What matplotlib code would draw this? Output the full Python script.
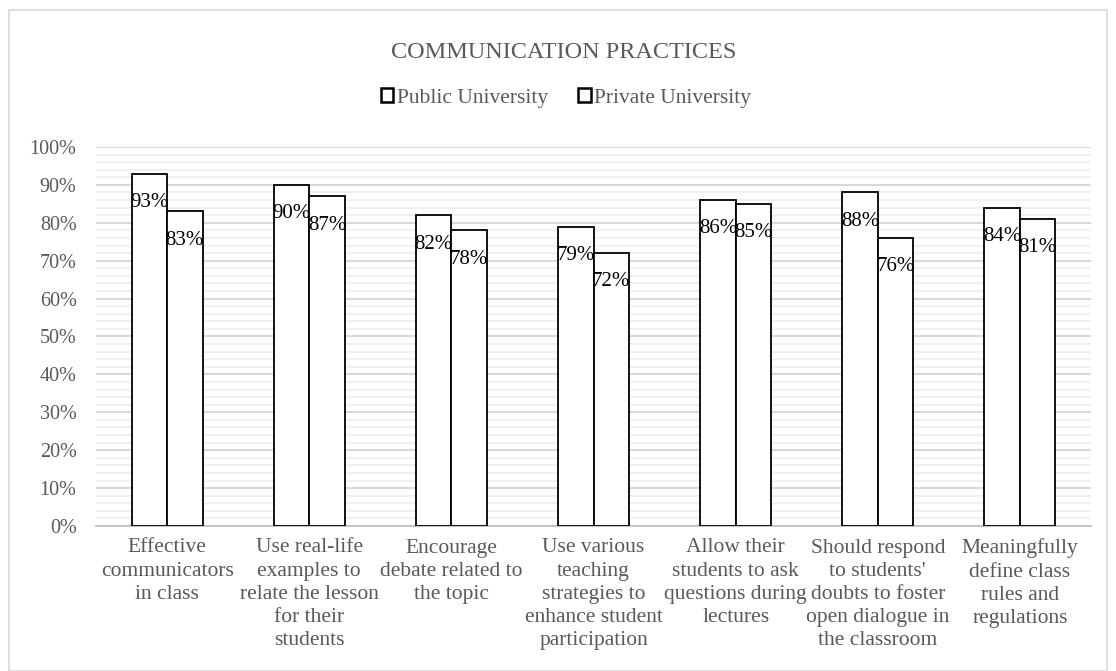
import numpy as np
import matplotlib.pyplot as plt
from matplotlib.patches import Rectangle
from matplotlib.ticker import MultipleLocator, PercentFormatter

plt.rcParams['font.family'] = ['Liberation Serif', 'DejaVu Serif']

categories = ["Effective\ncommunicators\nin class",
              "Use real-life\nexamples to\nrelate the lesson\nfor their\nstudents",
              "Encourage\ndebate related to\nthe topic",
              "Use various\nteaching\nstrategies to\nenhance student\nparticipation",
              "Allow their\nstudents to ask\nquestions during\nlectures",
              "Should respond\nto students'\ndoubts to foster\nopen dialogue in\nthe classroom",
              "Meaningfully\ndefine class\nrules and\nregulations"]
public = [93, 90, 82, 79, 86, 88, 84]
private = [83, 87, 78, 72, 85, 76, 81]
series = ["Public University", "Private University"]

grey = '#595959'
W, H = 1116, 671
fig = plt.figure(figsize=(W/100, H/100), dpi=100)

# chart border
fig.patches.append(Rectangle((9/W, 0), 1098/W, (H-10)/H, transform=fig.transFigure,
                             fill=False, edgecolor='#d9d9d9', lw=1.2))

ax = fig.add_axes([96/W, (H-526)/H, (1091-96)/W, (526-147)/H])
x = np.arange(len(categories))
w = 0.25
b1 = ax.bar(x - w/2, public, w, color='white', edgecolor='black', lw=1.3, label=series[0], zorder=3)
b2 = ax.bar(x + w/2, private, w, color='white', edgecolor='black', lw=1.3, label=series[1], zorder=3)

for bars, vals in ((b1, public), (b2, private)):
    for r, v in zip(bars, vals):
        ax.annotate(f"{v}%", (r.get_x() + r.get_width()/2, v), xytext=(0, -24),
                    textcoords='offset points', ha='center', va='baseline',
                    fontsize=15, color='black', zorder=4)

ax.set_xlim(-0.5, len(categories) - 0.5)
ax.set_ylim(0, 100)
ax.yaxis.set_major_locator(MultipleLocator(10))
ax.yaxis.set_minor_locator(MultipleLocator(2))
ax.yaxis.set_major_formatter(PercentFormatter(decimals=0))
ax.grid(axis='y', which='major', color='#d9d9d9', lw=1.5, zorder=0)
ax.grid(axis='y', which='minor', color='#f0f0f0', lw=1.5, zorder=0)
ax.set_axisbelow(True)
for s in ['top', 'right', 'left']:
    ax.spines[s].set_visible(False)
ax.spines['bottom'].set_color('#bfbfbf')
ax.spines['bottom'].set_linewidth(1.3)
ax.set_xticks(x)
ax.set_xticklabels(categories, fontsize=15.5, color=grey, linespacing=1.3)
ax.tick_params(axis='x', length=0, pad=9)
ax.tick_params(axis='y', which='both', length=0, pad=14, labelsize=14.5, labelcolor=grey)

fig.text(0.505, (H-52)/H, "COMMUNICATION PRACTICES", ha='center', va='center',
         fontsize=17.5, color=grey)
leg = fig.legend(loc='center', bbox_to_anchor=(0.507, (H-98)/H), ncol=2, frameon=False,
                 fontsize=15.5, handlelength=0.6, handleheight=0.6, handletextpad=0.15,
                 columnspacing=1.4)
for t in leg.get_texts():
    t.set_color(grey)
for p in leg.get_patches():
    p.set_linewidth(1.8)

fig.savefig('out.png', dpi=100)
